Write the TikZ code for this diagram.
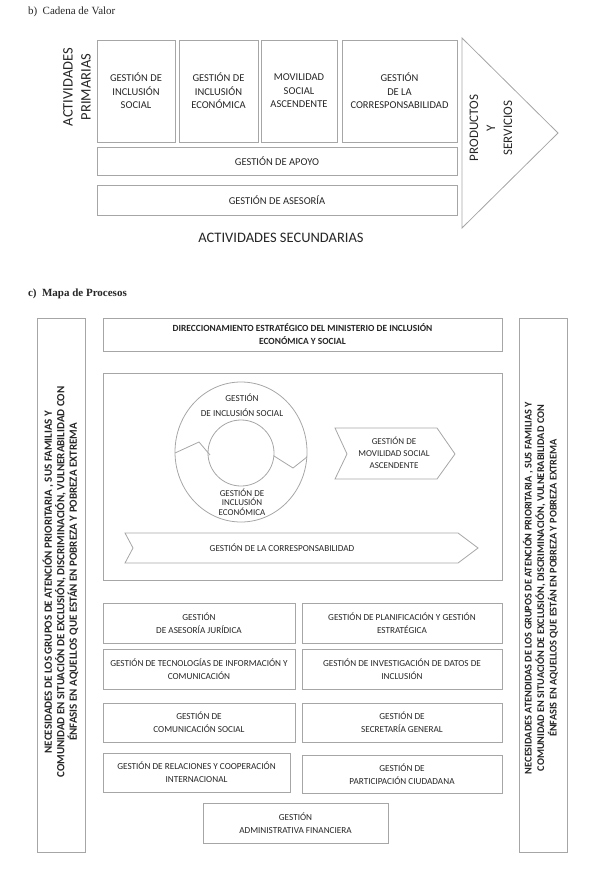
\documentclass[tikz,border=0pt]{standalone}
\usepackage{fontspec}
\setmainfont{Carlito}
\newfontfamily\seriffont{Liberation Serif}
\begin{document}
\begin{tikzpicture}[x=1pt,y=-1pt,
  every node/.style={inner sep=0pt,outer sep=0pt,text=black!85},
  bx/.style={draw=gray!70,line width=0.9pt},
  vc/.style={bx,align=center,font=\fontsize{10.5}{13.5}\selectfont},
  mp/.style={bx,align=center,font=\fontsize{9.2}{13}\selectfont},
  shp/.style={draw=gray!70,line width=0.8pt},
  big/.style={font=\fontsize{14.5}{18}\selectfont,align=center},
  vert/.style={rotate=90,align=center,font=\bfseries\fontsize{11}{12.5}\selectfont}]
\useasboundingbox (0,0) rectangle (597,877);
% ---------- b) Cadena de Valor
\node[anchor=west,font=\seriffont\fontsize{11}{13}\selectfont] (tb) at (28,12) {b)\enspace Cadena de Valor};
\node[big,rotate=90] (prim) at (77,87) {ACTIVIDADES\\PRIMARIAS};
\node[vc,minimum width=78,minimum height=102] (p1) at (136,91) {GESTIÓN DE\\INCLUSIÓN\\SOCIAL};
\node[vc,minimum width=79,minimum height=102] (p2) at (218.5,91) {GESTIÓN DE\\INCLUSIÓN\\ECONÓMICA};
\node[vc,minimum width=76,minimum height=102] (p3) at (299,91) {MOVILIDAD\\SOCIAL\\ASCENDENTE};
\node[vc,minimum width=115,minimum height=102] (p4) at (399.5,91) {GESTIÓN\\DE LA\\CORRESPONSABILIDAD};
\node[vc,minimum width=360,minimum height=28] (apoyo) at (277,161) {GESTIÓN DE APOYO};
\node[vc,minimum width=360,minimum height=30] (ases) at (277,200) {GESTIÓN DE ASESORÍA};
\draw[shp] (462,38) -- (558,133) -- (462,228) -- cycle;
\node[rotate=90,align=center,font=\fontsize{13}{17}\selectfont] (prod) at (491,128) {PRODUCTOS\\Y\\SERVICIOS};
\node[big] (sec) at (281,238) {ACTIVIDADES SECUNDARIAS};
% ---------- c) Mapa de Procesos
\node[anchor=west,font=\seriffont\bfseries\fontsize{11}{13}\selectfont] (tc) at (28,294) {c)\enspace Mapa de Procesos};
\draw[bx] (37,318) rectangle (85,852);
\draw[bx] (519,318) rectangle (567,852);
\node[vert] (lt) at (60.5,582) {NECESIDADES DE LOS GRUPOS DE ATENCIÓN PRIORITARIA , SUS FAMILIAS Y\\COMUNIDAD EN SITUACIÓN DE EXCLUSIÓN, DISCRIMINACIÓN, VULNERABILIDAD CON\\ÉNFASIS EN AQUELLOS QUE ESTÁN EN POBREZA Y POBREZA EXTREMA};
\node[vert,font=\bfseries\fontsize{10.3}{12.5}\selectfont] (rt) at (540.5,588) {NECESIDADES ATENDIDAS DE LOS GRUPOS DE ATENCIÓN PRIORITARIA , SUS FAMILIAS Y\\COMUNIDAD EN SITUACIÓN DE EXCLUSIÓN, DISCRIMINACIÓN, VULNERABILIDAD CON\\ÉNFASIS EN AQUELLOS QUE ESTÁN EN POBREZA Y POBREZA EXTREMA};
\node[bx,minimum width=399,minimum height=33,align=center,font=\bfseries\fontsize{9.4}{13}\selectfont] (dir) at (302.5,334.5) {DIRECCIONAMIENTO ESTRATÉGICO DEL MINISTERIO DE INCLUSIÓN\\ECONÓMICA Y SOCIAL};
\draw[bx] (103,373) rectangle (502,580);
% circle
\draw[shp] (241,452) ellipse [x radius=66,y radius=70];
\draw[shp] (241,453) circle [radius=33];
\draw[shp] (175,453) -- (199,442) -- (210,455);
\draw[shp] (274,456) -- (293,468) -- (307,457);
\node[align=center,font=\fontsize{9.2}{15}\selectfont] (cs) at (242,405) {GESTIÓN\\DE INCLUSIÓN SOCIAL};
\node[align=center,font=\fontsize{9}{9.7}\selectfont] (ce) at (242,502) {GESTIÓN DE\\INCLUSIÓN\\ECONÓMICA};
% chevrons
\draw[shp] (335,428) -- (437,428) -- (455,454) -- (437,479) -- (335,479) -- (347,454) -- cycle;
\node[align=center,font=\fontsize{9}{12}\selectfont] (mov) at (394,453) {GESTIÓN DE\\MOVILIDAD SOCIAL\\ASCENDENTE};
\draw[shp] (125,533) -- (458,533) -- (478,548) -- (458,563) -- (125,563) -- (133,548) -- cycle;
\node[font=\fontsize{9.2}{10}\selectfont] (cor) at (282,548) {GESTIÓN DE LA CORRESPONSABILIDAD};
% support boxes
\node[mp,minimum width=192,minimum height=40] (b1) at (199,623) {GESTIÓN\\DE ASESORÍA JURÍDICA};
\node[mp,minimum width=200,minimum height=40] (b2) at (402,623) {GESTIÓN DE PLANIFICACIÓN Y GESTIÓN\\ESTRATÉGICA};
\node[mp,minimum width=192,minimum height=40] (b3) at (199,669) {GESTIÓN DE TECNOLOGÍAS DE INFORMACIÓN Y\\COMUNICACIÓN};
\node[mp,minimum width=200,minimum height=40] (b4) at (402,669) {GESTIÓN DE INVESTIGACIÓN DE DATOS DE\\INCLUSIÓN};
\node[mp,minimum width=192,minimum height=39] (b5) at (199,722.5) {GESTIÓN DE\\COMUNICACIÓN SOCIAL};
\node[mp,minimum width=200,minimum height=39] (b6) at (402,722.5) {GESTIÓN DE\\SECRETARÍA GENERAL};
\node[mp,minimum width=187,minimum height=39] (b7) at (196.5,772.5) {GESTIÓN DE RELACIONES Y COOPERACIÓN\\INTERNACIONAL};
\node[mp,minimum width=200,minimum height=38] (b8) at (402,774) {GESTIÓN DE\\PARTICIPACIÓN CIUDADANA};
\node[mp,minimum width=185,minimum height=40] (b9) at (295.5,823) {GESTIÓN\\ADMINISTRATIVA FINANCIERA};
\end{tikzpicture}
\end{document}
